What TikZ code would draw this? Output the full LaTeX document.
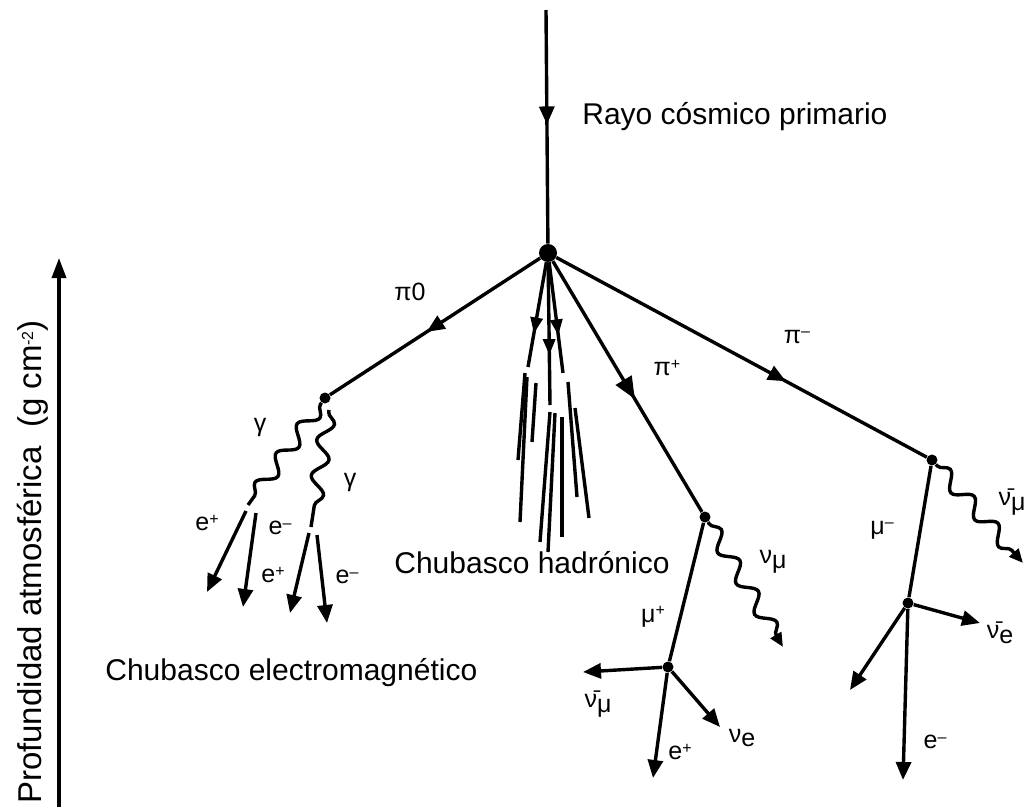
\documentclass[tikz,border=0pt]{standalone}
\usepackage{fontspec}
\setmainfont{Liberation Sans}
\usetikzlibrary{arrows.meta,decorations.markings,decorations.pathmorphing}
\newcommand{\chg}[1]{\raisebox{.5ex}{\fontsize{8}{8}\selectfont#1}}
\newcommand{\sub}[1]{\raisebox{-.35ex}{#1}}
\tikzset{
  trk/.style={line width=1.7pt},
  tip/.style={trk,-{Triangle[length=9pt,width=7.5pt]}},
  midarr/.style={trk,postaction={decorate},decoration={markings,mark=at position #1 with {\arrow{Triangle[length=9pt,width=7.5pt]}}}},
  bigarr/.style={trk,postaction={decorate},decoration={markings,mark=at position #1 with {\arrow{Triangle[length=11pt,width=9pt]}}}},
  hadarr/.style={trk,postaction={decorate},decoration={markings,mark=at position #1 with {\arrow{Triangle[length=8pt,width=6pt]}}}},
  photon/.style={trk,decorate,decoration={snake,amplitude=3.8pt,segment length=18pt,pre length=1pt,post length=3pt}},
  vtx/.style={circle,fill,inner sep=0pt,minimum size=5.5pt},
  lbl/.style={font=\fontsize{12.5}{14}\selectfont,inner sep=1pt},
  big/.style={font=\fontsize{15}{17}\selectfont,inner sep=0pt}
}
\begin{document}
\begin{tikzpicture}[x=0.5pt,y=-0.5pt]
      \useasboundingbox (0,0) rectangle (1029,809);
      \coordinate (top) at (546,10);
      \node[vtx,minimum size=9pt] (v) at (548,253) {};
      \node[vtx] (p0) at (325,398) {};
      \node[vtx] (pp) at (705,517) {};
      \node[vtx] (pm) at (932,460) {};
      \node[vtx] (mp) at (668,667) {};
      \node[vtx] (mm) at (908,603) {};
      \coordinate (p0b) at (329,410);
      \coordinate (g1) at (248,505);
      \coordinate (g2) at (311,527);
      \coordinate (h1) at (528,367);
      \coordinate (h2) at (550,405);
      \coordinate (h3) at (563,373);
      \coordinate (e1) at (207,592);
      \coordinate (e2) at (243,607);
      \coordinate (e3) at (290,613);
      \coordinate (e4) at (327,623);
      \coordinate (nm) at (783,647);
      \coordinate (anm) at (1023,563);
      \coordinate (mp1) at (583,672);
      \coordinate (mp2) at (653,778);
      \coordinate (mp3) at (720,727);
      \coordinate (mm1) at (980,623);
      \coordinate (mm2) at (850,690);
      \coordinate (mm3) at (903,780);
      \coordinate (ax0) at (59,807);
      \coordinate (ax1) at (59,258);
      \draw[midarr=.49] (top) -- (v);
      \draw[midarr=.54] (v) -- (p0);
      \draw[bigarr=.55] (v) -- (pp);
      \draw[midarr=.62] (v) -- (pm);
      \draw[hadarr=.68] (v) -- (h1);
      \draw[hadarr=.65] (v) -- (h2);
      \draw[hadarr=.66] (v) -- (h3);
      \foreach \xa/\ya/\xb/\yb in {525/373/518/460,527/377/520/522,536/383/532/442,555/413/548/552,550/412/540/542,562/417/562/537,568/382/577/497,575/408/589/518}
        {\draw[trk] (\xa,\ya) -- (\xb,\yb);}
      \draw[photon] (p0) -- (g1);
      \draw[photon] (p0b) -- (g2);
      \draw[tip] ([xshift=-1pt,yshift=-3pt]g1) -- (e1);
      \draw[tip] ([xshift=4pt,yshift=-4pt]g1) -- (e2);
      \draw[tip] ([xshift=-1pt,yshift=-3pt]g2) -- (e3);
      \draw[tip] ([xshift=3pt,yshift=-4pt]g2) -- (e4);
      \draw[trk] (pp) -- (mp);
      \draw[photon,-{Triangle[length=7pt,width=6pt]}] (pp) -- (nm);
      \draw[tip] (mp) -- (mp1);
      \draw[tip] (mp) -- (mp2);
      \draw[tip] (mp) -- (mp3);
      \draw[trk] (pm) -- (mm);
      \draw[photon,-{Triangle[length=7pt,width=6pt]}] (pm) -- (anm);
      \draw[tip] (mm) -- (mm1);
      \draw[tip] (mm) -- (mm2);
      \draw[tip] (mm) -- (mm3);
      \draw[trk,-{Triangle[length=10pt,width=7pt]}] (ax0) -- (ax1);
      \node[big,anchor=west] (rayo) at (582,117) {Rayo cósmico primario};
      \node[big] (had) at (532,563) {Chubasco hadrónico};
      \node[big,anchor=west] (em) at (105,673) {Chubasco electromagnético};
      \node[big,font=\fontsize{16.5}{18}\selectfont,rotate=90] (prof) at (33,562) {Profundidad atmosférica\ \ (g cm\chg{-2})};
      \node[lbl] (lpi0) at (410,292) {π0};
      \node[lbl] (lpip) at (667,368) {π\chg{+}};
      \node[lbl] (lpim) at (797,337) {π\chg{--}};
      \node[lbl] (lg1) at (260,427) {γ};
      \node[lbl] (lg2) at (350,482) {γ};
      \node[lbl] (le1) at (207,523) {e\chg{+}};
      \node[lbl] (le2) at (280,528) {e\chg{--}};
      \node[lbl] (le3) at (273,575) {e\chg{+}};
      \node[lbl] (le4) at (347,577) {e\chg{--}};
      \node[lbl] (lnm) at (773,562) {ν\sub{μ}};
      \node[lbl] (lmp) at (653,617) {μ\chg{+}};
      \node[lbl] (lanm) at (598,704) {\=ν\sub{μ}};
      \node[lbl] (lep) at (680,752) {e\chg{+}};
      \node[lbl] (lne) at (742,738) {ν\sub{e}};
      \node[lbl] (lmm) at (882,530) {μ\chg{--}};
      \node[lbl] (lane) at (1000,633) {\=ν\sub{e}};
      \node[lbl] (lem) at (935,742) {e\chg{--}};
      \node[lbl] (lanm2) at (1012,502) {\=ν\sub{μ}};
\end{tikzpicture}
\end{document}
